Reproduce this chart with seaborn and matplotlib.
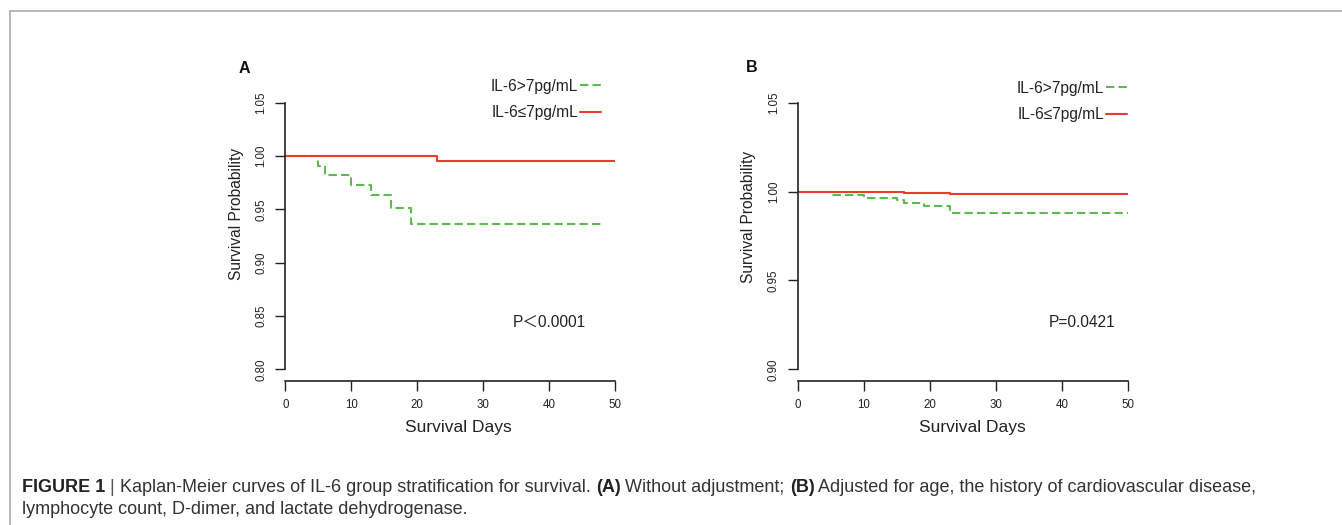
import matplotlib
matplotlib.use("Agg")
import matplotlib.pyplot as plt
from matplotlib.lines import Line2D
import pandas as pd
import seaborn as sns

# Kaplan-Meier step values
days_a_high = [0, 5, 6, 10, 13, 16, 19, 48]
surv_a_high = [1.0, 0.991, 0.9825, 0.973, 0.963, 0.951, 0.9366, 0.9366]
days_a_low = [0, 23, 50]
surv_a_low = [1.0, 0.9956, 0.9956]

days_b_high = [0, 5, 10, 15, 16, 19, 23, 50]
surv_b_high = [1.0, 0.9979, 0.9966, 0.9955, 0.9938, 0.9920, 0.9877, 0.9877]
days_b_low = [0, 6, 16, 19, 23, 50]
surv_b_low = [1.0, 0.9997, 0.9994, 0.9991, 0.9988, 0.9988]

group_labels = ["IL-6>7pg/mL", "IL-6≤7pg/mL"]
p_values = ["P＜0.0001", "P=0.0421"]
panel_letters = ["A", "B"]
x_ticks = [0, 10, 20, 30, 40, 50]
y_ticks_a = [0.80, 0.85, 0.90, 0.95, 1.00, 1.05]
y_ticks_b = [0.90, 0.95, 1.00, 1.05]

GREEN = "#5DBA4C"
RED = "#EE3B2F"
INK = "#222222"

sns.set_theme(style="ticks")
plt.rcParams["font.family"] = ["Liberation Sans", "DejaVu Sans"]
plt.rcParams["axes.edgecolor"] = INK
plt.rcParams["xtick.color"] = INK
plt.rcParams["ytick.color"] = INK


def km_frame(days_hi, surv_hi, days_lo, surv_lo):
    hi = pd.DataFrame({"day": days_hi, "surv": surv_hi, "group": group_labels[0]})
    lo = pd.DataFrame({"day": days_lo, "surv": surv_lo, "group": group_labels[1]})
    return hi, lo


fig = plt.figure(figsize=(13.42, 5.25), dpi=100)
W, H = 1342, 525

# page frame like the journal layout
fig.add_artist(Line2D([10 / W, 1.0], [1 - 11 / H, 1 - 11 / H], color="#aaaaaa", lw=1.2))
fig.add_artist(Line2D([10 / W, 10 / W], [0, 1 - 11 / H], color="#aaaaaa", lw=1.2))

panels = [
    dict(left=285.3, right=615.0, ylim=(0.789, 1.05), ybounds=(0.80, 1.05),
         yticks=y_ticks_a, data=km_frame(days_a_high, surv_a_high, days_a_low, surv_a_low),
         ptxt=(40.1, 0.8437), ylab=(236.7, 214.0), xlab=(458.0, 427.7), letter=(244.0, 68.3),
         leg=(601.0, 78.5)),
    dict(left=798.0, right=1128.3, ylim=(0.8934, 1.05), ybounds=(0.90, 1.05),
         yticks=y_ticks_b, data=km_frame(days_b_high, surv_b_high, days_b_low, surv_b_low),
         ptxt=(43.0, 0.9262), ylab=(748.3, 216.7), xlab=(972.7, 427.7), letter=(751.7, 67.3),
         leg=(1127.0, 80.5)),
]

top_px, bot_px = 102.7, 381.0
for i, p in enumerate(panels):
    ax = fig.add_axes([p["left"] / W, 1 - bot_px / H,
                       (p["right"] - p["left"]) / W, (bot_px - top_px) / H])
    hi, lo = p["data"]
    sns.lineplot(data=hi, x="day", y="surv", ax=ax, color=GREEN, lw=1.5,
                 linestyle=(0, (4, 2)), drawstyle="steps-post", estimator=None,
                 label=group_labels[0])
    sns.lineplot(data=lo, x="day", y="surv", ax=ax, color=RED, lw=1.5,
                 drawstyle="steps-post", estimator=None, label=group_labels[1])

    ax.set_xlim(0, 50)
    ax.set_ylim(*p["ylim"])
    ax.set_xticks(x_ticks)
    ax.set_yticks(p["yticks"])
    ax.set_yticklabels([f"{v:.2f}" for v in p["yticks"]], rotation=90, va="center")
    ax.tick_params(axis="both", length=7, width=1, labelsize=8.3, pad=6, labelcolor=INK)
    sns.despine(ax=ax)
    ax.spines["left"].set_bounds(*p["ybounds"])
    ax.spines["bottom"].set_bounds(0, 50)
    for s in ("left", "bottom"):
        ax.spines[s].set_linewidth(1.2)

    w_ax = p["right"] - p["left"]
    h_ax = bot_px - top_px
    ax.set_xlabel("Survival Days", fontsize=12.5, va="center", color=INK)
    ax.xaxis.set_label_coords((p["xlab"][0] - p["left"]) / w_ax, -(p["xlab"][1] - bot_px) / h_ax)
    ax.set_ylabel("Survival Probability", fontsize=11.2, va="center", color=INK)
    ax.yaxis.set_label_coords((p["ylab"][0] - p["left"]) / w_ax, (bot_px - p["ylab"][1]) / h_ax)

    ax.text(p["ptxt"][0], p["ptxt"][1], p_values[i], fontsize=11.2, ha="center", va="center",
            color=INK, family=["Liberation Sans", "Noto Sans CJK SC", "DejaVu Sans"])

    leg = ax.legend(loc="upper right",
                    bbox_to_anchor=((p["leg"][0] - p["left"]) / w_ax, (bot_px - p["leg"][1]) / h_ax),
                    frameon=False, markerfirst=False, fontsize=11.2, borderpad=0,
                    handlelength=1.35, handletextpad=0.1, labelspacing=0.75, borderaxespad=0)
    for t in leg.get_texts():
        t.set_color(INK)

    fig.text(p["letter"][0] / W, 1 - p["letter"][1] / H, panel_letters[i], fontsize=11.5,
             fontweight="bold", ha="center", va="center", color="#111111")

# caption, written run by run so the bold parts sit inline
renderer = fig.canvas.get_renderer()
cap_size = 13.0
line1 = [("FIGURE 1", "bold", "#222222"), (" | ", "normal", "#555555"),
         ("Kaplan-Meier curves of IL-6 group stratification for survival. ", "normal", "#333333"),
         ("(A)", "bold", "#222222"), (" Without adjustment; ", "normal", "#333333"),
         ("(B)", "bold", "#222222"),
         (" Adjusted for age, the history of cardiovascular disease,", "normal", "#333333")]
line2 = [("lymphocyte count, D-dimer, and lactate dehydrogenase.", "normal", "#333333")]
for runs, base in ((line1, 492.0), (line2, 514.0)):
    x = 22.0
    for txt, weight, col in runs:
        t = fig.text(x / W, 1 - base / H, txt, fontsize=cap_size, fontweight=weight,
                     color=col, ha="left", va="baseline")
        x += t.get_window_extent(renderer).width

fig.savefig("out.png", dpi=100)
